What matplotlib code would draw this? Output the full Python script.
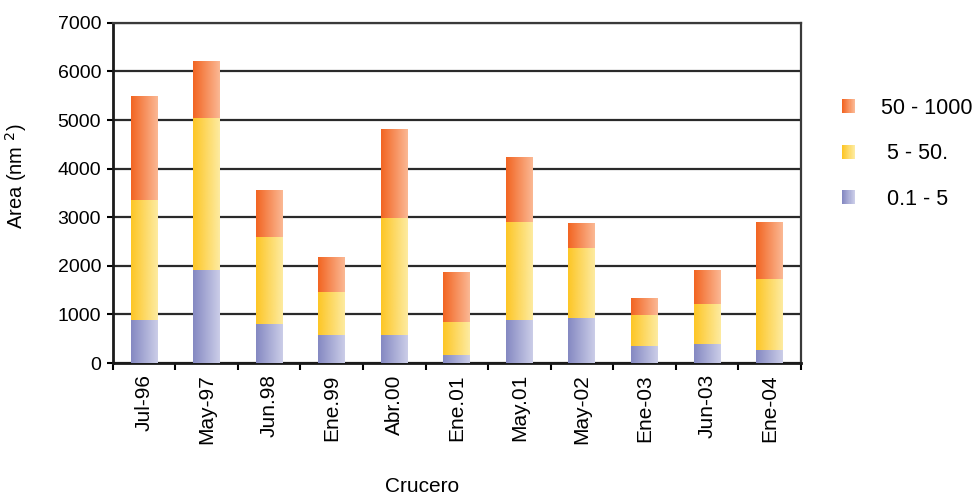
import numpy as np
import matplotlib
matplotlib.use('Agg')
import matplotlib.pyplot as plt
from matplotlib.colors import LinearSegmentedColormap
from matplotlib.patches import Rectangle
from matplotlib.legend_handler import HandlerBase

plt.rcParams.update({
    'font.family': ['Liberation Sans', 'DejaVu Sans'],
    'font.size': 13,
})

cruceros = ['Jul-96', 'May-97', 'Jun.98', 'Ene.99', 'Abr.00', 'Ene.01',
            'May.01', 'May-02', 'Ene-03', 'Jun-03', 'Ene-04']
# valores por rango de densidad (area, nm^2)
low = [890, 1915, 805, 576, 576, 165, 885, 926, 350, 391, 268]          # 0.1 - 5
mid = [2470, 3130, 1790, 886, 2410, 680, 2018, 1442, 638, 824, 1461]    # 5 - 50.
high = [2120, 1155, 947, 700, 1812, 1009, 1318, 514, 330, 679, 1153]    # 50 - 1000

series = [
    ('0.1 - 5', low, ('#8589c2', '#cbcde8')),
    ('5 - 50.', mid, ('#fdc626', '#fdeba0')),
    ('50 - 1000', high, ('#f26522', '#fbb894')),
]

fig = plt.figure(figsize=(9.73, 4.96), dpi=100)
ax = fig.add_axes([0.116, 0.268, 0.707, 0.686])

x = np.arange(len(cruceros))
grad = np.linspace(0, 1, 64).reshape(1, -1)
bottom = np.zeros(len(cruceros))
for label, vals, (c0, c1) in series:
    cmap = LinearSegmentedColormap.from_list(label, [c0, c1])
    bars = ax.bar(x, vals, 0.43, bottom=bottom, color='none', edgecolor='none', zorder=3)
    for b in bars:
        x0, y0 = b.get_x(), b.get_y()
        ax.imshow(grad, cmap=cmap, aspect='auto', zorder=3,
                  extent=[x0, x0 + b.get_width(), y0, y0 + b.get_height()])
    bottom += np.array(vals)

ax.set_xlim(-0.5, len(cruceros) - 0.5)
ax.set_ylim(0, 7000)
ax.set_yticks(np.arange(0, 7001, 1000))
ax.set_xticks(x)
ax.set_xticklabels(cruceros, rotation=90, fontsize=15)
ax.set_xticks(np.arange(-0.5, len(cruceros), 1), minor=True)
ax.tick_params(axis='x', which='major', length=0, pad=8)
ax.tick_params(axis='x', which='minor', length=5, width=1.5, direction='out')
ax.tick_params(axis='y', length=4.5, width=1.5, labelsize=14, pad=4)
ax.grid(axis='y', color='#2a2a2a', lw=1.6, zorder=1)

for s in ['left', 'bottom']:
    ax.spines[s].set_linewidth(2)
    ax.spines[s].set_color('#1a1a1a')
for s in ['top', 'right']:
    ax.spines[s].set_linewidth(1.6)
    ax.spines[s].set_color('#3a3a3a')

ax.set_ylabel('Area (nm $^{2}$)', fontsize=14.5)
ax.yaxis.set_label_coords(-0.122, 0.55)
ax.set_xlabel('Crucero', fontsize=15)
ax.xaxis.set_label_coords(0.45, -0.335)


class GradientHandler(HandlerBase):
    def __init__(self, c0, c1):
        super().__init__()
        self.cmap = LinearSegmentedColormap.from_list('h', [c0, c1])

    def create_artists(self, legend, orig_handle, xdescent, ydescent,
                       width, height, fontsize, trans):
        n = 12
        w, h = width, height
        x0, y0 = -xdescent, -ydescent
        arts = []
        for i in range(n):
            r = Rectangle((x0 + i * w / n, y0), w / n + 0.3, h,
                          facecolor=self.cmap(i / (n - 1)), edgecolor='none',
                          transform=trans)
            arts.append(r)
        return arts


handles, labels, hmap = [], [], {}
for label, vals, (c0, c1) in reversed(series):
    h = Rectangle((0, 0), 1, 1)
    handles.append(h)
    labels.append(label if label == '50 - 1000' else ' ' + label)
    hmap[h] = GradientHandler(c0, c1)

fig.legend(handles, labels, handler_map=hmap, loc='upper left',
           bbox_to_anchor=(0.865, 0.803), frameon=False, fontsize=15.5,
           labelspacing=1.14, handlelength=0.62, handleheight=0.64,
           handletextpad=1.2, borderpad=0, borderaxespad=0)

fig.savefig('out.png', dpi=100, facecolor='white')
